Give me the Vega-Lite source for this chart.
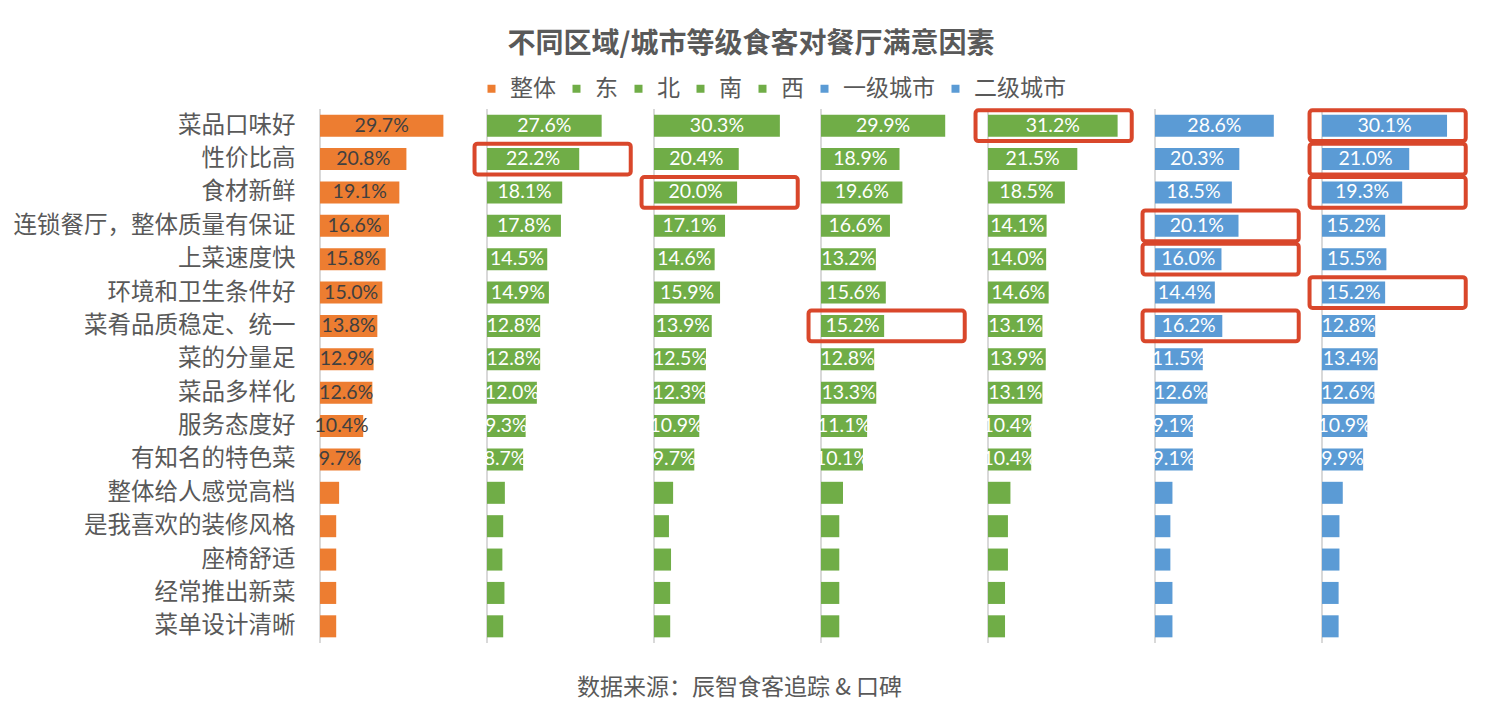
{
  "$schema": "https://vega.github.io/schema/vega-lite/v6.json",
  "padding": {"left": 13, "top": 31, "right": 5, "bottom": 5},
  "background": "white",
  "bounds": "flush",
  "title": {
    "text": "不同区域/城市等级食客对餐厅满意因素",
    "font": "Noto Sans CJK SC",
    "fontSize": 28,
    "fontWeight": "bold",
    "color": "#595959",
    "anchor": "middle",
    "frame": "bounds",
    "offset": 18
  },
  "data": {
    "values": [
      {"item": "菜品口味好", "group": "整体", "v": 29.7},
      {"item": "菜品口味好", "group": "东", "v": 27.6},
      {"item": "菜品口味好", "group": "北", "v": 30.3},
      {"item": "菜品口味好", "group": "南", "v": 29.9},
      {"item": "菜品口味好", "group": "西", "v": 31.2, "box": true},
      {"item": "菜品口味好", "group": "一级城市", "v": 28.6},
      {"item": "菜品口味好", "group": "二级城市", "v": 30.1, "box": true},
      {"item": "性价比高", "group": "整体", "v": 20.8},
      {"item": "性价比高", "group": "东", "v": 22.2, "box": true},
      {"item": "性价比高", "group": "北", "v": 20.4},
      {"item": "性价比高", "group": "南", "v": 18.9},
      {"item": "性价比高", "group": "西", "v": 21.5},
      {"item": "性价比高", "group": "一级城市", "v": 20.3},
      {"item": "性价比高", "group": "二级城市", "v": 21.0, "box": true},
      {"item": "食材新鲜", "group": "整体", "v": 19.1},
      {"item": "食材新鲜", "group": "东", "v": 18.1},
      {"item": "食材新鲜", "group": "北", "v": 20.0, "box": true},
      {"item": "食材新鲜", "group": "南", "v": 19.6},
      {"item": "食材新鲜", "group": "西", "v": 18.5},
      {"item": "食材新鲜", "group": "一级城市", "v": 18.5},
      {"item": "食材新鲜", "group": "二级城市", "v": 19.3, "box": true},
      {"item": "连锁餐厅，整体质量有保证", "group": "整体", "v": 16.6},
      {"item": "连锁餐厅，整体质量有保证", "group": "东", "v": 17.8},
      {"item": "连锁餐厅，整体质量有保证", "group": "北", "v": 17.1},
      {"item": "连锁餐厅，整体质量有保证", "group": "南", "v": 16.6},
      {"item": "连锁餐厅，整体质量有保证", "group": "西", "v": 14.1},
      {"item": "连锁餐厅，整体质量有保证", "group": "一级城市", "v": 20.1, "box": true},
      {"item": "连锁餐厅，整体质量有保证", "group": "二级城市", "v": 15.2},
      {"item": "上菜速度快", "group": "整体", "v": 15.8},
      {"item": "上菜速度快", "group": "东", "v": 14.5},
      {"item": "上菜速度快", "group": "北", "v": 14.6},
      {"item": "上菜速度快", "group": "南", "v": 13.2},
      {"item": "上菜速度快", "group": "西", "v": 14.0},
      {"item": "上菜速度快", "group": "一级城市", "v": 16.0, "box": true},
      {"item": "上菜速度快", "group": "二级城市", "v": 15.5},
      {"item": "环境和卫生条件好", "group": "整体", "v": 15.0},
      {"item": "环境和卫生条件好", "group": "东", "v": 14.9},
      {"item": "环境和卫生条件好", "group": "北", "v": 15.9},
      {"item": "环境和卫生条件好", "group": "南", "v": 15.6},
      {"item": "环境和卫生条件好", "group": "西", "v": 14.6},
      {"item": "环境和卫生条件好", "group": "一级城市", "v": 14.4},
      {"item": "环境和卫生条件好", "group": "二级城市", "v": 15.2, "box": true},
      {"item": "菜肴品质稳定、统一", "group": "整体", "v": 13.8},
      {"item": "菜肴品质稳定、统一", "group": "东", "v": 12.8},
      {"item": "菜肴品质稳定、统一", "group": "北", "v": 13.9},
      {"item": "菜肴品质稳定、统一", "group": "南", "v": 15.2, "box": true},
      {"item": "菜肴品质稳定、统一", "group": "西", "v": 13.1},
      {"item": "菜肴品质稳定、统一", "group": "一级城市", "v": 16.2, "box": true},
      {"item": "菜肴品质稳定、统一", "group": "二级城市", "v": 12.8},
      {"item": "菜的分量足", "group": "整体", "v": 12.9},
      {"item": "菜的分量足", "group": "东", "v": 12.8},
      {"item": "菜的分量足", "group": "北", "v": 12.5},
      {"item": "菜的分量足", "group": "南", "v": 12.8},
      {"item": "菜的分量足", "group": "西", "v": 13.9},
      {"item": "菜的分量足", "group": "一级城市", "v": 11.5},
      {"item": "菜的分量足", "group": "二级城市", "v": 13.4},
      {"item": "菜品多样化", "group": "整体", "v": 12.6},
      {"item": "菜品多样化", "group": "东", "v": 12.0},
      {"item": "菜品多样化", "group": "北", "v": 12.3},
      {"item": "菜品多样化", "group": "南", "v": 13.3},
      {"item": "菜品多样化", "group": "西", "v": 13.1},
      {"item": "菜品多样化", "group": "一级城市", "v": 12.6},
      {"item": "菜品多样化", "group": "二级城市", "v": 12.6},
      {"item": "服务态度好", "group": "整体", "v": 10.4},
      {"item": "服务态度好", "group": "东", "v": 9.3},
      {"item": "服务态度好", "group": "北", "v": 10.9},
      {"item": "服务态度好", "group": "南", "v": 11.1},
      {"item": "服务态度好", "group": "西", "v": 10.4},
      {"item": "服务态度好", "group": "一级城市", "v": 9.1},
      {"item": "服务态度好", "group": "二级城市", "v": 10.9},
      {"item": "有知名的特色菜", "group": "整体", "v": 9.7},
      {"item": "有知名的特色菜", "group": "东", "v": 8.7},
      {"item": "有知名的特色菜", "group": "北", "v": 9.7},
      {"item": "有知名的特色菜", "group": "南", "v": 10.1},
      {"item": "有知名的特色菜", "group": "西", "v": 10.4},
      {"item": "有知名的特色菜", "group": "一级城市", "v": 9.1},
      {"item": "有知名的特色菜", "group": "二级城市", "v": 9.9},
      {"item": "整体给人感觉高档", "group": "整体", "v": 4.6},
      {"item": "整体给人感觉高档", "group": "东", "v": 4.3},
      {"item": "整体给人感觉高档", "group": "北", "v": 4.6},
      {"item": "整体给人感觉高档", "group": "南", "v": 5.3},
      {"item": "整体给人感觉高档", "group": "西", "v": 5.4},
      {"item": "整体给人感觉高档", "group": "一级城市", "v": 4.2},
      {"item": "整体给人感觉高档", "group": "二级城市", "v": 5.0},
      {"item": "是我喜欢的装修风格", "group": "整体", "v": 3.9},
      {"item": "是我喜欢的装修风格", "group": "东", "v": 3.9},
      {"item": "是我喜欢的装修风格", "group": "北", "v": 3.6},
      {"item": "是我喜欢的装修风格", "group": "南", "v": 4.4},
      {"item": "是我喜欢的装修风格", "group": "西", "v": 4.8},
      {"item": "是我喜欢的装修风格", "group": "一级城市", "v": 3.7},
      {"item": "是我喜欢的装修风格", "group": "二级城市", "v": 4.2},
      {"item": "座椅舒适", "group": "整体", "v": 3.9},
      {"item": "座椅舒适", "group": "东", "v": 3.7},
      {"item": "座椅舒适", "group": "北", "v": 4.1},
      {"item": "座椅舒适", "group": "南", "v": 4.4},
      {"item": "座椅舒适", "group": "西", "v": 4.8},
      {"item": "座椅舒适", "group": "一级城市", "v": 3.7},
      {"item": "座椅舒适", "group": "二级城市", "v": 4.2},
      {"item": "经常推出新菜", "group": "整体", "v": 3.9},
      {"item": "经常推出新菜", "group": "东", "v": 4.2},
      {"item": "经常推出新菜", "group": "北", "v": 3.9},
      {"item": "经常推出新菜", "group": "南", "v": 4.4},
      {"item": "经常推出新菜", "group": "西", "v": 4.1},
      {"item": "经常推出新菜", "group": "一级城市", "v": 4.2},
      {"item": "经常推出新菜", "group": "二级城市", "v": 4.0},
      {"item": "菜单设计清晰", "group": "整体", "v": 3.9},
      {"item": "菜单设计清晰", "group": "东", "v": 3.9},
      {"item": "菜单设计清晰", "group": "北", "v": 3.9},
      {"item": "菜单设计清晰", "group": "南", "v": 4.4},
      {"item": "菜单设计清晰", "group": "西", "v": 4.1},
      {"item": "菜单设计清晰", "group": "一级城市", "v": 4.2},
      {"item": "菜单设计清晰", "group": "二级城市", "v": 4.0}
    ]
  },
  "facet": {
    "column": {
      "field": "group",
      "type": "nominal",
      "sort": ["整体", "东", "北", "南", "西", "一级城市", "二级城市"],
      "title": "数据来源：辰智食客追踪 & 口碑　　　",
      "header": {
        "labelExpr": "''",
        "labelOrient": "bottom",
        "labelFontSize": 1,
        "labelPadding": 0,
        "titleOrient": "bottom",
        "titleAnchor": "middle",
        "titleAlign": "right",
        "titleFont": "Noto Sans CJK SC",
        "titleFontSize": 23,
        "titleFontWeight": "normal",
        "titleColor": "#595959",
        "titlePadding": 23
      }
    }
  },
  "spacing": 0,
  "spec": {
    "width": 167,
    "height": 534,
    "layer": [
      {
        "mark": {"type": "rule", "color": "#d9d9d9", "strokeWidth": 1.5},
        "encoding": {"x": {"datum": 0, "type": "quantitative", "axis": null}}
      },
      {
        "mark": {"type": "bar"},
        "encoding": {
          "y": {
            "field": "item",
            "type": "nominal",
            "sort": null,
            "scale": {
              "domain": ["菜品口味好", "性价比高", "食材新鲜", "连锁餐厅，整体质量有保证", "上菜速度快", "环境和卫生条件好", "菜肴品质稳定、统一", "菜的分量足", "菜品多样化", "服务态度好", "有知名的特色菜", "整体给人感觉高档", "是我喜欢的装修风格", "座椅舒适", "经常推出新菜", "菜单设计清晰"],
              "paddingInner": 0.34,
              "paddingOuter": 0.17
            },
            "axis": {
              "title": null,
              "ticks": false,
              "domain": false,
              "labelFont": "Noto Sans CJK SC",
              "labelFontSize": 23.5,
              "labelColor": "#595959",
              "labelPadding": 25,
              "labelLimit": 400
            }
          },
          "x": {
            "field": "v",
            "type": "quantitative",
            "scale": {"domain": [0, 40.2], "nice": false},
            "axis": null
          },
          "color": {
            "field": "group",
            "type": "nominal",
            "scale": {
              "domain": ["整体", "东", "北", "南", "西", "一级城市", "二级城市"],
              "range": ["#ED7D31", "#70AD47", "#70AD47", "#70AD47", "#70AD47", "#5B9BD5", "#5B9BD5"]
            },
            "legend": {
              "title": null,
              "orient": "none",
              "legendX": 160,
              "legendY": -32,
              "direction": "horizontal",
              "symbolType": "square",
              "symbolSize": 64,
              "symbolStrokeWidth": 0,
              "labelFont": "Noto Sans CJK SC",
              "labelFontSize": 23,
              "labelColor": "#595959",
              "labelOffset": 7,
              "columnPadding": 9
            }
          }
        }
      },
      {
        "transform": [
          {"filter": "datum.v > 6"},
          {"calculate": "datum.v / 2", "as": "mid"},
          {"calculate": "format(datum.v, '.1f') + '%'", "as": "label"}
        ],
        "mark": {"type": "text", "font": "Lato", "fontSize": 19.5, "align": "center", "baseline": "middle"},
        "encoding": {
          "y": {"field": "item", "type": "nominal", "sort": null},
          "x": {"field": "mid", "type": "quantitative", "axis": null},
          "text": {"field": "label"},
          "color": {
            "condition": {"test": "datum.group === '整体'", "value": "#404040"},
            "value": "#ffffff"
          }
        }
      },
      {
        "transform": [{"filter": "datum.box === true"}],
        "mark": {
          "type": "bar",
          "fillOpacity": 0,
          "stroke": "#D9472B",
          "strokeWidth": 4,
          "cornerRadius": 3,
          "height": {"band": 1.4}
        },
        "encoding": {
          "y": {"field": "item", "type": "nominal", "sort": null},
          "x": {"datum": -3, "type": "quantitative", "axis": null},
          "x2": {"datum": 34.6}
        }
      }
    ]
  },
  "config": {
    "view": {"stroke": null},
    "font": "Noto Sans CJK SC"
  }
}
